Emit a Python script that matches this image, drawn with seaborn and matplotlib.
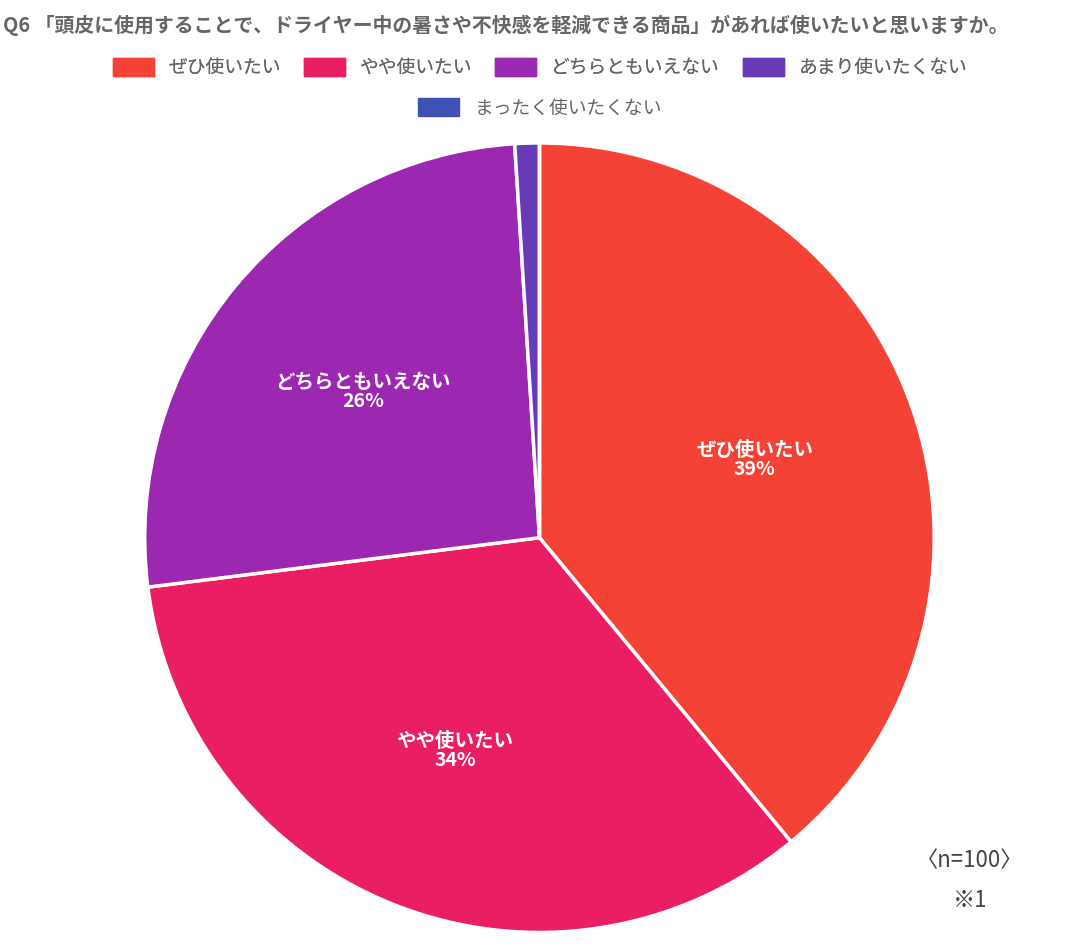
import matplotlib.pyplot as plt
import matplotlib.patches as mpatches
import seaborn as sns
import numpy as np

sns.set_theme(style="white")
plt.rcParams['font.family'] = ['Noto Sans CJK JP', 'DejaVu Sans']

categories = ["ぜひ使いたい", "やや使いたい", "どちらともいえない", "あまり使いたくない", "まったく使いたくない"]
values = [39, 34, 26, 1, 0]
colors = ["#F44336", "#E91E63", "#9C27B0", "#673AB7", "#3F51B5"]
title = "Q6 「頭皮に使用することで、ドライヤー中の暑さや不快感を軽減できる商品」があれば使いたいと思いますか。"

fig = plt.figure(figsize=(10.8, 9.5), dpi=100)
ax = fig.add_axes([0.134, 0.018, 0.731, 0.832])

wedges, _ = ax.pie(values, colors=colors, startangle=90, counterclock=False,
                   wedgeprops=dict(edgecolor="white", linewidth=2.5))
ax.set_xlim(-1.0, 1.0)
ax.set_ylim(-1.0, 1.0)
ax.set_aspect("equal")

# labels inside the larger slices
for w, cat, v in zip(wedges, categories, values):
    if v < 5:
        continue
    ang = np.deg2rad((w.theta1 + w.theta2) / 2)
    r = 0.58
    ax.text(r * np.cos(ang), r * np.sin(ang), f"{cat}\n{v}%", ha="center", va="center",
            color="white", fontsize=14, fontweight="bold", linespacing=1.0)

fig.text(0.003, 0.985, title, ha="left", va="top", fontsize=14.3,
         fontweight="bold", color="#666666")

handles = [mpatches.Patch(color=c, label=l) for c, l in zip(colors, categories)]
leg1 = fig.legend(handles=handles[:4], loc="center", bbox_to_anchor=(0.5, 0.929), ncol=4,
                  frameon=False, fontsize=13.5, handlelength=2.2, handleheight=1.1,
                  columnspacing=1.2, labelcolor="#666666")
fig.legend(handles=handles[4:], loc="center", bbox_to_anchor=(0.5, 0.886), ncol=1,
           frameon=False, fontsize=13.5, handlelength=2.2, handleheight=1.1,
           labelcolor="#666666")
fig.add_artist(leg1)

fig.text(0.898, 0.094, "〈n=100〉", ha="center", va="center", fontsize=16, color="#444444")
fig.text(0.898, 0.052, "※1", ha="center", va="center", fontsize=16, color="#444444")

fig.savefig("out.png", dpi=100)
